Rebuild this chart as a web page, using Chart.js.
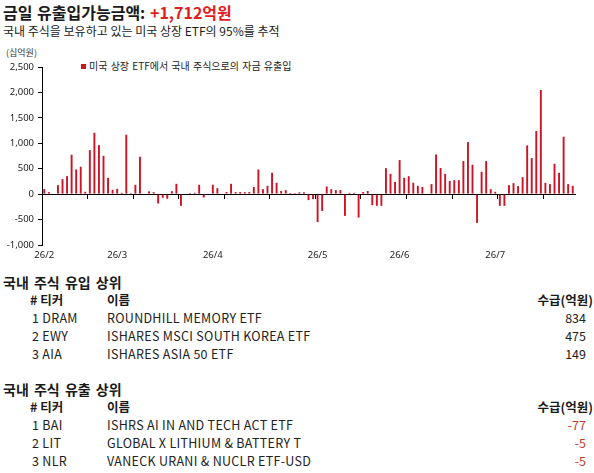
<!DOCTYPE html>
<html>
<head>
<meta charset="utf-8">
<script src="https://cdn.jsdelivr.net/npm/chart.js@4"></script>
<style>
  body { margin: 0; background: #fff; font-family: "Noto Sans CJK KR", "Noto Sans", sans-serif; color: #1a1a1a; }
  #wrap { position: relative; width: 594px; height: 473px; overflow: hidden; }
  .t { position: absolute; white-space: nowrap; line-height: 1; }
  #chartBox { position: absolute; left: 0; top: 40px; width: 594px; height: 230px; }
  .red { color: #e0201e; }
</style>
</head>
<body>
<div id="wrap">
  <div class="t" style="left:3px;top:4px;font-size:16px;font-weight:bold;word-spacing:1px;">금일 유출입가능금액: <span class="red">+1,712억원</span></div>
  <div class="t" style="left:3px;top:25px;font-size:12px;">국내 주식을 보유하고 있는 미국 상장 ETF의 95%를 추적</div>
  <div class="t" style="left:6px;top:48px;font-size:9px;color:#333;">(십억원)</div>
  <div class="t" style="left:81px;top:61px;font-size:10px;color:#222;word-spacing:1px;"><span style="display:inline-block;width:5px;height:5px;background:#d0141e;margin-right:3px;vertical-align:1px;"></span>미국 상장 ETF에서 국내 주식으로의 자금 유출입</div>
  <div id="chartBox"><canvas id="myChart"></canvas></div>
  <div id="tables"></div>
</div>
<script>
// daily flow, 십억원 (one value per trading day, Feb -> Jul)
const flowValues = [
  100, 40, 0, 177, 295, 354, 774, 485, 538, 46,
  866, 1207, 964, 754, 321, 85, 105, 26, 1168, 20,
  184, 735, 0, 55, 40, -184, -72, -92, 59, 203,
  -230, 0, 20, 26, 184, -66, 0, 184, 118, 0,
  40, 203, 40, 40, 40, 40, 140, 485, 98, 164,
  420, 223, 62, 79, 23, 20, 36, 36, -118, -98,
  -550, -330, 150, 98, 79, 79, -427, 26, 26, -460,
  42, 62, -217, -230, -230, 510, 400, 240, 670, 321,
  354, 223, 164, 141, 0, 197, 780, 515, 400, 260,
  276, 276, 650, 1024, 578, -565, 440, 650, 98, 46,
  -230, -230, 177, 217, 158, 335, 959, 709, 1241, 2049,
  223, 197, 598, 420, 1129, 197, 164
];
// month tick labels and the trading day they sit on
const monthLabels = ['26/2', '26/3', '26/4', '26/5', '26/6', '26/7'];
const monthIndex = [0, 16, 37, 60, 78, 99];
const yTicks = [-1000, -500, 0, 500, 1000, 1500, 2000, 2500];

// top inflow / outflow tables
const inflowTicker = ['DRAM', 'EWY', 'AIA'];
const inflowName = ['ROUNDHILL MEMORY ETF', 'ISHARES MSCI SOUTH KOREA ETF', 'ISHARES ASIA 50 ETF'];
const inflowValue = [834, 475, 149];
const outflowTicker = ['BAI', 'LIT', 'NLR'];
const outflowName = ['ISHRS AI IN AND TECH ACT ETF', 'GLOBAL X LITHIUM & BATTERY T', 'VANECK URANI & NUCLR ETF-USD'];
const outflowValue = [-77, -5, -5];

document.addEventListener('DOMContentLoaded', function(){

  let labels = [];
  for (let i = 0; i < flowValues.length; i++) {
    let k = monthIndex.indexOf(i);
    labels[i] = k >= 0 ? monthLabels[k] : '';
  }

  const ctx = document.getElementById('myChart');
  new Chart(ctx, {
    type: 'bar',
    data: {
      labels: labels,
      datasets: [{
        label: '미국 상장 ETF에서 국내 주식으로의 자금 유출입',
        data: flowValues,
        backgroundColor: '#cc1424',
        categoryPercentage: 1,
        barPercentage: 0.42,
        xAxisID: 'x'
      }]
    },
    options: {
      responsive: true,
      maintainAspectRatio: false,
      animation: false,
      layout: { padding: { left: 0, right: 19, top: 27, bottom: 0 } },
      plugins: { legend: { display: false }, tooltip: { enabled: false } },
      scales: {
        y: {
          min: -1000,
          max: 2500,
          afterBuildTicks: function(scale){ scale.ticks = yTicks.map(v => ({ value: v })); },
          afterFit: function(scale){ scale.width = 42; },
          border: { display: true, color: '#000', width: 1 },
          grid: { drawOnChartArea: false, drawTicks: true, tickLength: 4, color: '#000' },
          ticks: {
            color: '#222',
            padding: 4,
            font: { family: 'Noto Sans', size: 9.5 },
            callback: function(v){ return v.toLocaleString('en-US'); }
          }
        },
        x: {
          type: 'category',
          position: { y: 0 },
          offset: true,
          border: { display: true, color: '#000', width: 1 },
          grid: {
            offset: true,
            drawOnChartArea: false,
            drawTicks: true,
            tickLength: 4,
            color: function(c){ return c.index % 10 === 0 ? '#000' : 'rgba(0,0,0,0)'; }
          },
          ticks: { display: false }
        },
        x2: {
          type: 'category',
          position: 'bottom',
          offset: true,
          afterFit: function(scale){ scale.height = 25; },
          border: { display: false },
          grid: { display: false, drawTicks: false },
          ticks: {
            autoSkip: false,
            maxRotation: 0,
            minRotation: 0,
            padding: 5,
            color: '#222',
            font: { family: 'Noto Sans', size: 9.5 }
          }
        }
      }
    }
  });

  // tables below the chart
  const tables = document.getElementById('tables');
  function addText(txt, left, top, size, extra) {
    let d = document.createElement('div');
    d.className = 't';
    d.setAttribute('style', 'left:' + left + 'px;top:' + top + 'px;font-size:' + size + 'px;' + (extra || ''));
    d.textContent = txt;
    tables.appendChild(d);
    return d;
  }
  function addRight(txt, right, top, size, extra) {
    let d = addText(txt, 0, top, size, extra);
    d.style.left = '';
    d.style.right = (594 - right) + 'px';
    return d;
  }
  function block(title, top, tickers, names, values) {
    addText(title, 3, top, 14, 'font-weight:bold;word-spacing:2px;');
    addText('# 티커', 30, top + 19, 12.5, 'font-weight:bold;');
    addText('이름', 107, top + 19, 12.5, 'font-weight:bold;');
    addRight('수급(억원)', 593, top + 19, 12.5, 'font-weight:bold;');
    for (let i = 0; i < tickers.length; i++) {
      let y = top + 37 + i * 18;
      addText((i + 1) + ' ' + tickers[i], 32, y, 12.5, 'color:#222;letter-spacing:0.3px;');
      addText(names[i], 107, y, 12.5, 'color:#222;letter-spacing:0.3px;');
      let col = values[i] < 0 ? '#c0392b' : '#222';
      addRight(values[i].toLocaleString('en-US'), 586, y, 12.5, 'color:' + col + ';');
    }
  }
  block('국내 주식 유입 상위', 275, inflowTicker, inflowName, inflowValue);
  block('국내 주식 유출 상위', 382, outflowTicker, outflowName, outflowValue);
});
</script>
</body>
</html>
